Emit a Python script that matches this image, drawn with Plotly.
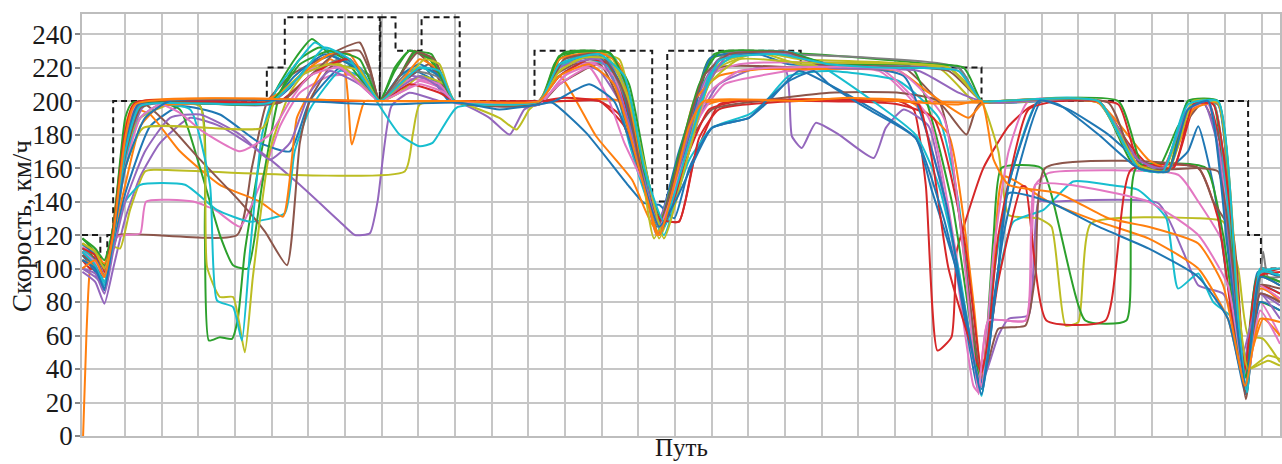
import plotly.graph_objects as go

# ---------------- data (path in km, speed in km/h) ----------------
y_ticks = [0, 20, 40, 60, 80, 100, 120, 140, 160, 180, 200, 220, 240]
x_grid_km = list(range(1, 33))

limit_km = [-0.17, 0.33, 0.33, 0.52, 0.52, 0.68, 0.68, 4.87, 4.87, 5.36, 5.36, 7.95, 7.95, 7.97,
            8.38, 8.38, 9.09, 9.09, 10.13, 10.13, 12.17, 12.17, 15.38, 15.38, 15.79, 15.79,
            19.43, 19.43, 24.36, 24.36, 31.63, 31.63, 31.98, 31.98, 32.5]
limit_v = [120, 120, 100, 100, 120, 120, 200, 200, 220, 220, 250, 250, 200, 250,
           250, 230, 230, 250, 250, 200, 200, 230, 230, 140, 140, 230,
           230, 220, 220, 200, 200, 120, 120, 100, 100]

run01 = [(-0.16,110),(0.19,100),(0.44,90),(0.68,120),(1.01,172),(1.28,195),(1.55,199),(4.95,199),(5.50,208),(6.04,222),(6.86,228),(7.40,218),(7.95,200),(8.49,210),(8.90,218),(9.58,210),(9.99,200),(12.30,200),(12.85,222),(13.94,226),(14.48,210),(15.02,160),(15.51,125),(16.11,170),(16.66,205),(17.20,225),(18.29,228),(19.11,222),(23.73,220),(24.36,200),(27.55,199),(28.50,165),(29.31,158),(29.86,190),(30.27,200),(30.81,198),(31.22,110),(31.57,28),(31.90,98),(32.50,95)]
run02 = [(-0.14,0),(-0.05,60),(0.05,100),(0.19,108),(0.44,98),(0.68,125),(1.01,185),(1.28,199),(7.95,200),(12.30,199),(14.48,200),(15.02,170),(15.51,122),(15.90,135),(16.66,195),(17.20,200),(22.10,200),(24.36,199),(27.55,200),(28.63,162),(29.31,160),(29.99,195),(30.68,199),(31.22,100),(31.57,25),(31.96,90),(32.50,80)]
run03 = [(-0.16,115),(0.19,105),(0.44,95),(0.68,122),(1.01,168),(1.42,195),(1.69,199),(3.05,197),(3.18,120),(3.29,57),(3.59,59),(3.92,58),(4.08,70),(4.27,110),(4.68,165),(5.09,205),(5.63,225),(6.10,237),(6.59,228),(7.13,222),(7.68,215),(7.95,200),(8.36,218),(8.76,230),(9.31,225),(9.99,200),(12.30,200),(12.71,222),(12.98,229),(14.07,229),(14.62,200),(15.16,150),(15.57,128),(16.11,165),(16.66,205),(17.07,228),(18.84,229),(23.46,220),(23.87,212),(24.36,200),(24.82,199),(27.55,200),(28.50,162),(29.18,160),(29.72,185),(30.27,200),(30.68,199),(31.22,80),(31.52,35),(31.90,96),(32.50,92)]
run04 = [(-0.16,105),(0.05,100),(0.44,100),(0.68,125),(1.01,180),(1.20,197),(1.42,200),(7.95,200),(10.13,200),(12.30,200),(12.98,202),(13.94,200),(14.48,192),(15.02,160),(15.57,130),(16.11,128),(16.52,165),(17.20,198),(17.75,200),(19.38,201),(22.10,200),(22.51,195),(22.84,150),(23.16,51),(23.54,59),(23.68,110),(23.82,121),(24.41,160),(25.10,185),(25.64,196),(26.05,200),(27.55,200),(28.36,175),(28.91,162),(29.59,160),(30.13,195),(30.54,200),(31.08,150),(31.55,38),(31.90,95),(32.50,100)]
run05 = [(-0.16,98),(0.19,92),(0.44,79),(0.68,100),(1.01,130),(1.42,155),(1.96,175),(2.78,190),(3.59,185),(4.68,170),(5.77,150),(6.86,128),(7.27,120),(7.68,121),(7.89,140),(8.27,197),(8.76,205),(9.58,200),(10.13,199),(10.94,190),(11.49,180),(11.89,195),(12.30,200),(12.85,215),(13.39,222),(13.94,218),(14.48,200),(15.02,165),(15.51,120),(16.11,150),(16.66,190),(17.20,210),(18.29,220),(19.03,218),(19.19,179),(19.46,172),(19.84,187),(20.47,180),(21.42,166),(21.75,184),(22.24,195),(22.92,185),(23.46,130),(24.36,32),(24.82,60),(25.10,70),(25.64,72),(25.91,140),(26.18,140),(29.18,139),(29.86,110),(30.27,90),(30.95,85),(31.22,70),(31.57,30),(31.96,85),(32.50,80)]
run06 = [(-0.16,110),(0.19,103),(0.44,92),(0.68,112),(0.82,120),(4.06,120),(4.46,160),(4.87,199),(5.50,215),(6.31,225),(7.40,235),(7.68,220),(7.95,200),(8.49,215),(8.90,230),(9.31,222),(9.99,200),(12.30,198),(12.71,215),(13.26,222),(14.21,222),(14.75,185),(15.30,140),(15.62,125),(16.11,160),(16.66,200),(17.20,220),(19.38,220),(22.24,220),(23.38,195),(23.95,180),(24.20,195),(24.36,199),(24.82,200),(27.55,200),(28.63,165),(29.31,160),(29.86,185),(30.40,199),(30.95,170),(31.57,25),(31.96,95),(32.50,90)]
run07 = [(-0.16,100),(0.19,105),(0.44,96),(0.68,118),(1.01,120),(1.42,121),(1.58,140),(2.86,140),(3.46,135),(4.14,125),(4.68,150),(5.23,185),(5.77,205),(6.59,215),(7.40,215),(7.95,200),(8.49,205),(9.04,212),(9.58,208),(9.99,199),(12.30,198),(12.85,212),(13.39,222),(14.07,222),(14.48,205),(15.02,165),(15.57,125),(16.11,160),(16.66,190),(17.34,210),(18.29,215),(19.11,218),(21.56,218),(22.65,195),(23.46,130),(24.14,30),(24.28,26),(24.55,69),(25.56,69),(25.83,150),(26.18,157),(29.72,156),(30.27,140),(30.95,115),(31.36,60),(31.55,40),(31.96,80),(32.50,60)]
run08 = [(-0.16,112),(0.19,108),(0.44,100),(0.68,113),(0.87,112),(1.14,135),(1.55,158),(1.82,159),(8.63,158),(8.85,180),(9.04,198),(10.13,199),(11.21,190),(11.68,183),(12.03,195),(12.30,200),(12.85,220),(13.39,228),(14.21,228),(14.75,200),(15.30,140),(15.57,118),(16.11,150),(16.66,195),(17.20,222),(18.29,229),(19.38,222),(23.46,220),(24.36,200),(24.82,170),(25.10,132),(25.91,130),(26.27,125),(26.65,66),(27.00,68),(27.35,127),(30.27,130),(30.95,128),(31.36,100),(31.63,60),(32.04,58),(32.50,44)]
run09 = [(-0.16,115),(0.19,100),(0.44,88),(0.68,115),(1.01,140),(1.42,150),(2.64,150),(3.51,135),(4.41,128),(5.36,133),(5.63,170),(6.04,195),(6.86,218),(7.40,215),(7.95,197),(8.49,180),(9.04,173),(9.39,175),(10.04,196),(11.21,199),(12.30,200),(12.85,215),(13.66,225),(14.21,220),(14.75,175),(15.30,138),(15.70,125),(16.39,165),(17.01,184),(18.02,192),(18.48,200),(19.11,215),(20.20,218),(22.10,212),(23.19,190),(23.73,140),(24.36,25),(24.69,80),(25.23,128),(26.05,135),(26.86,152),(27.82,150),(28.63,147),(29.40,130),(29.72,88),(30.27,97),(30.68,80),(31.22,70),(31.57,30),(31.96,100),(32.50,96)]
run10 = [(-0.16,108),(0.19,98),(0.44,87),(0.68,115),(1.01,145),(1.69,185),(2.50,197),(3.59,192),(4.68,175),(5.50,170),(6.04,200),(6.86,220),(7.40,220),(7.95,200),(8.63,212),(9.17,220),(9.85,200),(12.30,199),(12.66,199),(13.58,181),(14.75,149),(15.16,139),(15.57,138),(15.98,130),(16.39,160),(17.01,184),(18.02,190),(18.56,200),(19.38,218),(20.20,210),(22.56,178),(23.00,147),(23.65,101),(24.28,27),(24.55,60),(24.96,120),(25.37,160),(25.99,200),(26.73,195),(27.82,180),(28.63,165),(29.45,160),(29.99,170),(30.27,185),(30.68,150),(31.08,90),(31.57,25),(31.96,90),(32.50,85)]
run11 = [(-0.16,105),(0.19,102),(0.44,97),(0.68,120),(1.01,175),(1.28,195),(1.69,192),(2.50,170),(3.59,150),(4.68,140),(5.31,131),(5.69,190),(6.04,205),(6.59,225),(6.99,218),(7.19,174),(7.54,200),(7.95,200),(8.49,210),(9.04,220),(9.58,215),(9.99,200),(12.30,200),(12.85,215),(13.85,179),(14.83,153),(15.43,125),(15.84,140),(16.66,198),(18.29,200),(22.37,200),(23.46,180),(24.14,80),(24.36,35),(24.69,100),(24.96,155),(26.18,140),(27.55,128),(28.91,118),(30.27,100),(31.08,70),(31.57,28),(31.96,88),(32.50,82)]
run12 = [(-0.16,118),(0.19,110),(0.44,102),(0.68,118),(1.01,165),(1.42,195),(1.69,200),(2.50,195),(3.05,160),(3.59,120),(3.95,102),(4.35,100),(4.74,150),(5.23,205),(5.77,225),(6.31,232),(6.99,225),(7.95,200),(8.49,215),(8.90,229),(9.36,228),(9.99,200),(12.30,200),(12.85,225),(13.26,229),(14.21,229),(14.75,210),(15.30,150),(15.62,130),(16.39,185),(16.93,225),(18.02,229),(19.11,228),(20.20,222),(22.46,220),(23.54,141),(24.36,30),(24.69,120),(24.90,160),(25.99,160),(27.19,69),(28.31,69),(28.58,160),(30.48,160),(30.95,120),(31.49,40),(31.90,80),(32.50,75)]
run13 = [(-0.16,110),(0.19,106),(0.44,98),(0.68,122),(1.01,178),(1.28,198),(1.96,200),(7.95,200),(10.13,200),(12.17,198),(12.85,215),(13.66,225),(14.21,222),(14.89,180),(15.57,130),(16.11,128),(16.66,178),(17.20,195),(19.38,200),(22.10,198),(23.05,190),(23.87,120),(24.36,40),(24.55,55),(24.82,93),(25.45,149),(25.56,149),(26.13,69),(27.74,69),(28.44,159),(30.27,160),(30.81,130),(31.36,45),(31.57,35),(31.90,90),(32.50,85)]
run14 = [(-0.16,100),(0.19,95),(0.44,90),(0.68,118),(1.01,165),(1.55,198),(4.95,198),(5.77,215),(6.59,222),(7.40,212),(7.95,200),(8.76,215),(9.58,210),(9.99,200),(12.30,199),(12.85,220),(13.94,228),(14.48,215),(15.02,175),(15.57,130),(16.11,165),(16.66,205),(17.20,225),(18.84,228),(20.20,222),(23.73,218),(24.36,200),(27.55,200),(28.36,170),(29.31,158),(29.86,192),(30.40,200),(30.95,160),(31.49,40),(31.90,85),(32.50,78)]
run15 = [(-0.16,112),(0.19,105),(0.44,100),(0.68,120),(1.01,170),(1.28,195),(1.55,198),(2.23,185),(3.05,165),(4.14,140),(4.82,122),(5.42,102),(5.77,175),(6.04,200),(6.59,220),(7.13,225),(7.95,200),(8.49,210),(9.31,222),(9.99,200),(12.30,198),(12.85,210),(13.94,222),(14.48,200),(15.16,150),(15.57,120),(16.39,175),(17.01,195),(18.29,200),(20.20,205),(22.10,205),(23.19,200),(23.46,180),(24.36,35),(24.55,45),(24.82,64),(25.56,66),(25.83,97),(26.10,160),(30.27,160),(30.68,140),(31.22,120),(31.57,25),(31.96,90),(32.50,88)]
run16 = [(-0.16,113),(0.19,108),(0.44,96),(0.68,120),(1.01,178),(1.28,197),(4.95,199),(5.63,212),(6.31,222),(6.99,220),(7.95,200),(8.76,213),(9.58,210),(9.99,200),(12.30,198),(12.98,215),(13.80,222),(14.34,215),(15.02,160),(15.57,125),(16.25,170),(16.93,215),(17.75,222),(21.56,220),(22.92,190),(24.14,45),(24.36,30),(24.69,110),(25.10,170),(25.64,200),(27.55,199),(28.63,162),(29.31,158),(29.99,195),(30.54,198),(31.08,130),(31.55,35),(31.90,90),(32.50,82)]
run17 = [(-0.16,105),(0.19,100),(0.44,92),(0.68,118),(1.01,175),(1.42,198),(5.23,200),(6.04,215),(6.86,225),(7.68,215),(7.95,200),(8.76,218),(9.58,214),(9.99,200),(12.30,200),(12.98,225),(14.07,226),(14.75,195),(15.30,140),(15.62,125),(16.66,200),(17.34,228),(19.11,228),(23.73,220),(24.36,200),(27.55,200),(28.63,160),(29.45,159),(29.99,200),(30.81,198),(31.22,90),(31.57,30),(31.96,95),(32.04,110),(32.17,95),(32.50,95)]
run18 = [(-0.16,110),(0.19,104),(0.44,96),(0.68,122),(1.01,170),(1.42,190),(2.23,198),(3.05,197),(3.24,101),(3.59,83),(3.95,83),(4.27,50),(4.49,95),(4.95,170),(5.50,205),(6.04,220),(6.86,222),(7.95,200),(8.49,205),(9.04,215),(9.72,210),(9.99,200),(12.30,200),(12.85,218),(13.66,228),(14.48,225),(15.02,170),(15.43,118),(16.11,160),(16.66,198),(17.20,220),(18.29,229),(19.38,225),(23.19,220),(24.14,200),(24.36,200),(24.82,199),(27.55,199),(28.63,160),(29.31,158),(30.13,200),(30.81,199),(31.30,90),(31.63,40),(32.17,45),(32.50,42)]
run19 = [(-0.16,112),(0.19,104),(0.44,92),(0.68,120),(1.01,165),(1.42,190),(1.96,198),(2.78,195),(3.32,150),(3.51,81),(3.95,77),(4.19,57),(4.41,110),(4.74,180),(5.09,205),(5.77,225),(6.18,235),(6.86,225),(7.40,220),(7.95,200),(8.49,215),(9.04,220),(9.58,215),(9.99,200),(12.30,200),(12.85,220),(13.53,228),(14.34,226),(14.89,190),(15.43,130),(15.70,120),(16.39,170),(16.93,215),(17.75,229),(19.24,229),(20.20,218),(22.56,180),(23.19,150),(23.73,100),(24.36,24),(24.69,95),(25.10,150),(25.91,200),(27.55,200),(28.63,160),(29.31,158),(29.99,200),(30.68,199),(31.22,100),(31.57,28),(31.96,98),(32.50,100)]
run20 = [(-0.16,115),(0.19,108),(0.44,95),(0.68,120),(1.01,170),(1.36,198),(4.95,199),(5.63,215),(6.45,228),(7.27,220),(7.95,200),(8.49,215),(9.04,222),(9.72,212),(9.99,200),(12.30,199),(12.85,222),(13.94,228),(14.53,210),(15.16,150),(15.62,128),(16.39,180),(16.98,226),(19.11,228),(20.20,222),(22.24,215),(23.38,140),(24.01,60),(24.36,28),(24.55,50),(24.82,100),(25.10,145),(26.18,140),(27.55,125),(28.91,112),(30.27,95),(31.08,70),(31.57,25),(31.96,80),(32.50,75)]
run21 = [(-0.16,115),(0.19,110),(0.44,103),(0.68,120),(1.01,150),(1.42,185),(1.96,197),(4.68,199),(5.23,205),(6.04,220),(6.59,228),(7.13,228),(7.95,200),(8.49,210),(9.04,225),(9.58,218),(9.99,200),(12.30,200),(12.85,225),(13.94,229),(14.48,222),(15.02,170),(15.51,120),(15.98,150),(16.52,200),(17.20,215),(18.29,219),(19.38,219),(22.10,218),(22.92,205),(24.01,190),(24.36,198),(24.82,200),(27.55,199),(28.91,165),(29.45,160),(30.13,195),(30.81,199),(31.36,80),(31.57,40),(32.04,70),(32.50,60)]
run22 = [(-0.16,118),(0.19,112),(0.44,105),(0.68,125),(1.01,190),(1.20,199),(4.95,199),(5.77,222),(6.59,230),(7.40,225),(7.95,200),(8.36,220),(8.76,230),(9.36,225),(9.99,200),(12.30,199),(12.85,227),(14.21,229),(14.75,205),(15.30,140),(15.57,125),(16.11,168),(16.66,210),(17.20,229),(19.11,229),(20.20,222),(23.87,220),(24.36,200),(24.82,200),(28.09,200),(28.77,160),(29.45,158),(29.99,200),(30.81,200),(31.36,60),(31.57,35),(31.96,95),(32.50,92)]
run23 = [(-0.16,112),(0.19,108),(0.44,100),(0.68,122),(1.01,182),(1.28,199),(5.23,200),(6.04,215),(6.59,222),(7.13,225),(7.95,200),(8.76,210),(9.58,205),(9.99,200),(12.30,200),(13.12,200),(13.94,200),(14.62,185),(15.30,140),(15.70,127),(16.39,170),(16.93,195),(17.75,200),(22.10,200),(22.65,198),(23.05,160),(23.46,100),(24.36,38),(24.55,60),(24.82,120),(25.64,195),(26.46,200),(28.09,198),(28.63,165),(29.59,160),(30.13,198),(30.68,198),(31.22,120),(31.55,40),(31.90,95),(32.50,98)]
run24 = [(-0.16,100),(0.19,97),(0.44,85),(0.68,110),(1.01,140),(1.55,170),(2.23,190),(3.05,192),(4.14,180),(4.95,165),(5.50,175),(6.04,205),(6.59,218),(7.40,210),(7.95,200),(8.49,208),(9.04,215),(9.58,208),(9.99,200),(12.30,199),(12.85,220),(13.94,225),(14.48,205),(15.02,165),(15.57,125),(16.11,160),(16.66,200),(17.47,228),(19.11,228),(20.20,220),(22.65,218),(23.73,205),(24.36,200),(24.82,199),(27.55,200),(28.63,165),(29.31,160),(29.99,195),(30.54,200),(31.08,120),(31.49,50),(31.96,85),(32.50,70)]
run25 = [(-0.16,108),(0.19,102),(0.44,95),(0.68,118),(1.01,168),(1.42,196),(1.96,199),(5.23,199),(5.91,212),(6.72,228),(7.40,230),(7.73,215),(7.95,200),(8.49,215),(8.98,229),(9.44,225),(9.99,200),(12.30,199),(12.98,225),(13.94,228),(14.62,205),(15.16,150),(15.57,125),(16.11,165),(16.79,215),(17.47,228),(19.11,229),(19.92,222),(23.46,218),(24.36,200),(24.82,200),(27.82,199),(28.63,160),(30.27,160),(30.81,158),(31.22,100),(31.57,22),(31.96,85),(32.50,80)]
run26 = [(-0.16,110),(0.19,104),(0.44,95),(0.68,118),(1.01,160),(1.42,190),(1.96,198),(2.50,193),(3.05,183),(4.14,170),(4.95,180),(5.50,200),(6.04,215),(6.86,220),(7.95,200),(8.49,205),(9.04,210),(9.72,205),(9.99,200),(12.30,200),(12.85,210),(13.66,220),(14.21,200),(14.62,175),(15.16,150),(15.57,125),(16.25,165),(16.93,205),(17.75,218),(18.84,220),(22.10,218),(23.33,190),(24.14,50),(24.28,25),(24.55,69),(25.56,69),(25.83,150),(26.73,150),(28.91,140),(30.27,120),(31.08,90),(31.57,30),(31.96,75),(32.50,55)]
run27 = [(-0.16,115),(0.19,110),(0.44,100),(0.68,118),(1.01,160),(1.50,184),(4.76,184),(5.09,200),(5.77,215),(6.59,222),(7.40,218),(7.95,200),(8.63,212),(9.17,225),(9.58,222),(9.99,200),(12.30,200),(12.85,218),(13.53,226),(14.21,225),(14.75,200),(15.30,150),(15.70,118),(16.39,170),(16.93,210),(17.75,225),(19.38,223),(23.46,220),(24.36,200),(24.82,200),(27.55,200),(28.63,162),(29.45,158),(30.13,200),(30.81,199),(31.36,80),(31.63,40),(32.17,48),(32.50,46)]
run28 = [(-0.16,110),(0.19,102),(0.44,90),(0.68,116),(1.01,170),(1.42,197),(4.95,199),(5.77,215),(6.45,232),(7.13,225),(7.95,200),(8.49,210),(9.04,220),(9.58,218),(9.99,200),(12.30,200),(12.85,222),(13.94,228),(14.62,215),(15.16,160),(15.70,128),(16.39,175),(17.20,224),(18.84,228),(20.20,222),(21.56,220),(23.73,218),(24.36,200),(24.82,200),(27.55,200),(28.63,160),(29.31,158),(29.99,198),(30.81,200),(31.36,70),(31.60,26),(31.96,98),(32.50,96)]
run29 = [(-0.16,105),(0.19,100),(0.44,88),(0.68,118),(1.01,160),(1.55,190),(2.23,200),(5.77,200),(7.95,198),(10.13,199),(11.21,195),(12.30,198),(12.71,200),(13.66,210),(14.34,200),(15.02,160),(15.57,125),(16.03,141),(17.01,184),(18.02,190),(18.48,200),(19.11,212),(19.79,218),(20.20,210),(21.28,195),(22.56,178),(23.33,130),(23.87,80),(24.36,25),(24.82,100),(25.10,150),(25.91,200),(26.46,198),(27.55,180),(28.63,160),(29.45,158),(29.99,195),(30.54,200),(31.08,110),(31.57,30),(31.96,95),(32.50,90)]
run30 = [(-0.16,100),(0.19,105),(0.44,95),(0.68,120),(1.01,178),(1.28,198),(7.95,200),(10.13,200),(12.30,200),(12.85,215),(13.66,222),(14.34,210),(15.02,160),(15.57,120),(16.39,185),(16.79,200),(19.38,200),(20.74,202),(22.10,200),(23.73,198),(24.36,200),(24.69,165),(25.10,150),(26.46,145),(27.82,130),(28.91,125),(30.27,115),(30.95,90),(31.55,30),(31.96,70),(32.50,68)]

runs = [run01, run02, run03, run04, run05, run06, run07, run08, run09, run10,
        run11, run12, run13, run14, run15, run16, run17, run18, run19, run20,
        run21, run22, run23, run24, run25, run26, run27, run28, run29, run30]

# ---------------- styles ----------------
tab = {"blue": "#1f77b4", "orange": "#ff7f0e", "green": "#2ca02c", "red": "#d62728",
       "purple": "#9467bd", "brown": "#8c564b", "pink": "#e377c2", "gray": "#7f7f7f",
       "olive": "#bcbd22", "cyan": "#17becf"}
run_colors = ["blue", "orange", "green", "red", "purple", "brown", "pink", "olive", "cyan", "blue",
              "orange", "green", "red", "purple", "brown", "pink", "gray", "olive", "cyan", "blue",
              "orange", "green", "red", "purple", "brown", "pink", "olive", "cyan", "blue", "orange"]

SERIF = "Liberation Serif, Times New Roman, serif"
GRID = "#c6c6c6"

fig = go.Figure()
fig.add_trace(go.Scatter(x=limit_km, y=limit_v, mode="lines",
                         line=dict(color="#1a1a1a", width=2, dash="6px,4px"),
                         hoverinfo="skip"))
for run, cname in zip(runs, run_colors):
    fig.add_trace(go.Scatter(x=[p[0] for p in run], y=[p[1] for p in run], mode="lines",
                             line=dict(color=tab[cname], width=2, shape="spline", smoothing=0.5),
                             hoverinfo="skip"))

fig.update_layout(
    width=1282, height=464,
    margin=dict(l=82, r=0, t=14, b=28),
    paper_bgcolor="white", plot_bgcolor="white",
    showlegend=False,
    xaxis=dict(range=[-0.17, 32.5], tickmode="array", tickvals=x_grid_km,
               showticklabels=False, ticks="", showgrid=True, gridcolor=GRID, gridwidth=1.5,
               showline=True, linecolor="#bdbdbd", linewidth=1.5, mirror=True, zeroline=False),
    yaxis=dict(range=[0, 252], tickmode="array", tickvals=y_ticks,
               ticks="outside", ticklen=5, tickwidth=1.5, tickcolor="#888888",
               ticklabelstandoff=-3,
               tickfont=dict(family=SERIF, size=27, color="#1a1a1a"),
               showgrid=True, gridcolor=GRID, gridwidth=1.5,
               showline=True, linecolor="#bdbdbd", linewidth=1.5, mirror=True, zeroline=False),
    annotations=[
        dict(text="Путь", xref="paper", yref="paper", x=0.5, y=-0.027,
             xanchor="center", yanchor="middle", showarrow=False,
             font=dict(family=SERIF, size=25, color="#1a1a1a")),
        dict(text="Скорость, км/ч", xref="paper", yref="paper", x=-0.05, y=0.498,
             xanchor="center", yanchor="middle", textangle=-90, showarrow=False,
             font=dict(family=SERIF, size=27, color="#1a1a1a")),
    ],
)

fig.write_html("out.html", config={"displayModeBar": False},
               post_script="document.body.style.margin='0';")
